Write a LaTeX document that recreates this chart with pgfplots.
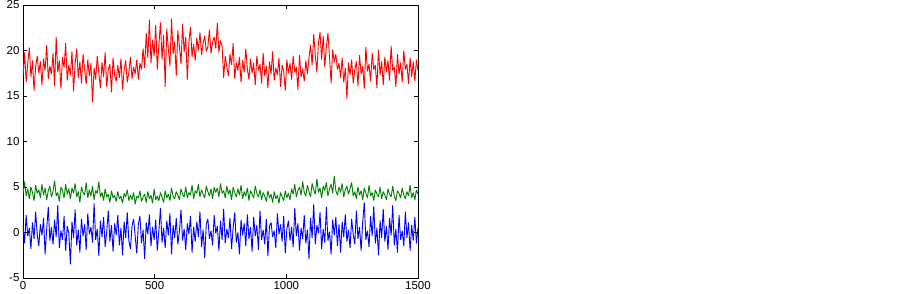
\documentclass[border=0pt]{standalone}
\usepackage{fontspec}
\setmainfont{Liberation Sans}
\usepackage{pgfplots}
\usepackage{pgfplotstable}
\pgfplotsset{compat=1.18}
\pgfplotstableread{
r g b
17.2 4.2 0.8
19.8 5.6 -1.2
16.5 4.0 1.9
18.6 4.8 -0.4
20.3 3.7 0.5
17.1 5.0 -1.8
18.9 4.4 1.1
15.6 3.5 -0.7
18.2 5.2 2.3
19.4 4.3 -0.2
17.5 4.7 -1.5
18.8 3.8 0.9
16.2 5.3 -0.3
19.1 4.1 1.6
17.8 4.9 -2.4
20.6 3.6 0.4
16.9 4.6 2.8
18.3 5.1 -0.9
17.4 3.9 0.6
19.7 4.5 -1.3
16.1 5.7 1.4
21.5 4.0 -0.5
17.6 4.4 3.0
18.9 3.4 -1.7
15.8 5.0 0.2
19.3 4.6 -0.8
18.1 3.8 1.8
20.8 5.3 -2.0
16.7 4.2 0.7
18.4 4.8 -0.1
17.3 3.7 -3.5
19.9 4.9 1.2
15.5 4.3 -0.6
18.6 5.4 2.5
20.2 3.9 -1.4
17.0 4.5 0.3
18.8 3.3 -2.2
16.4 5.0 1.5
19.6 4.4 -0.4
17.9 4.1 0.9
16.3 5.5 -1.9
19.0 3.8 2.1
17.2 4.7 -0.2
18.6 4.0 0.6
14.3 5.1 -1.1
18.1 3.6 3.2
16.8 4.6 -0.8
19.4 4.3 0.4
17.5 5.6 -2.6
15.9 3.9 1.3
18.7 4.4 -0.5
17.1 3.5 1.7
19.8 4.8 -1.6
16.0 3.9 0.1
17.9 4.2 2.4
18.5 3.3 -1.0
15.4 4.6 0.8
19.2 3.8 -2.1
17.3 4.1 1.0
16.6 3.4 -0.3
18.4 4.5 1.9
17.0 3.7 -1.4
19.1 4.0 0.5
15.7 3.2 -2.5
17.8 4.3 1.2
18.9 3.9 -0.6
16.5 4.7 2.2
17.6 3.5 -0.9
19.3 4.1 -1.8
16.9 3.6 0.7
18.2 4.4 1.5
17.4 3.1 -0.4
19.0 4.0 -2.3
16.8 3.8 0.9
18.6 4.6 1.8
17.9 3.4 -1.2
20.2 3.9 0.3
18.1 4.2 -2.9
21.9 3.3 1.1
19.2 4.5 -0.2
23.4 3.7 2.0
18.6 4.1 -1.5
21.2 3.2 0.6
19.4 4.8 -0.8
22.8 3.6 1.4
17.9 4.0 -2.0
20.6 3.5 0.2
23.1 4.4 2.7
19.0 3.9 -1.1
21.7 3.3 0.5
16.0 4.6 -1.7
22.4 3.8 1.3
20.1 4.2 -0.3
18.3 3.5 2.1
23.5 4.9 -2.4
19.6 4.0 0.8
21.0 3.7 -0.6
17.2 4.5 1.6
22.2 4.1 -1.3
20.4 3.6 0.1
18.5 4.8 2.5
22.9 4.2 -0.9
19.8 3.9 0.4
21.5 5.0 -1.9
16.8 3.8 1.0
20.9 4.4 -0.2
22.6 4.1 1.8
19.3 5.2 -2.2
20.7 3.7 0.6
18.9 4.6 -1.0
21.4 4.3 1.2
20.0 5.3 -0.5
22.0 3.9 2.3
19.5 4.7 -1.6
20.8 4.2 0.3
21.6 3.8 -2.8
19.9 5.1 0.9
20.4 4.5 1.5
22.3 4.0 -0.7
19.7 4.8 0.2
20.9 3.7 -1.4
21.5 5.0 1.9
20.2 4.4 -0.1
23.0 4.9 0.7
19.8 3.9 -2.0
21.1 5.4 1.3
20.5 4.3 -0.8
17.0 4.6 2.6
19.4 3.8 -1.2
18.2 5.1 0.4
17.2 4.2 -0.6
19.6 4.7 1.6
18.4 3.6 -1.8
20.8 5.0 0.5
16.9 4.4 2.2
18.7 3.9 -1.1
17.8 4.8 0.0
19.3 4.1 -2.4
16.5 5.2 1.4
18.9 3.7 -0.3
17.6 4.5 1.0
20.2 4.0 -1.5
18.0 4.9 2.0
16.8 3.5 -0.7
19.1 4.6 0.6
17.5 4.2 -2.1
18.6 3.8 1.7
16.2 5.1 -0.4
19.4 4.3 0.8
17.8 3.9 -1.9
18.5 4.7 2.4
16.4 3.6 -0.8
19.7 4.4 0.3
17.2 4.0 -1.3
18.3 3.4 1.5
15.9 4.6 -2.6
18.8 3.8 0.7
17.4 4.2 1.1
19.9 3.3 -0.5
16.7 4.5 0.2
18.1 3.7 -1.7
17.3 4.1 2.1
19.2 3.2 -0.2
16.0 4.4 0.9
18.4 3.9 -1.0
17.7 3.5 1.8
15.6 4.6 -2.3
19.0 3.8 0.4
17.5 4.3 1.3
18.6 3.6 -0.9
16.8 4.8 0.6
19.4 4.2 -1.6
17.6 5.3 2.7
18.2 3.9 -0.4
15.7 4.6 1.0
19.5 5.0 -2.0
17.1 4.1 0.5
18.0 5.6 -0.7
16.6 4.4 1.9
18.9 4.0 -1.2
17.4 5.2 0.3
19.2 4.5 -2.9
20.6 3.9 1.6
18.4 5.4 -0.6
21.8 4.7 3.1
19.5 4.2 -1.3
17.6 5.9 0.8
20.9 4.4 -0.1
22.0 4.9 2.2
19.0 3.8 -1.8
21.6 5.1 0.4
18.2 4.6 -1.1
20.4 5.5 2.8
21.9 4.0 -0.9
19.3 4.8 0.1
16.4 5.3 -2.4
20.1 4.3 1.4
18.7 6.2 -0.3
19.6 4.6 1.7
17.9 4.1 -1.5
18.6 5.0 0.9
17.0 4.4 -2.2
19.2 5.4 1.2
16.5 3.9 -0.5
18.1 4.7 2.0
14.7 5.1 -1.0
18.7 4.2 0.3
17.3 4.8 -1.7
19.0 5.5 1.5
16.4 4.0 -0.2
17.9 4.5 -1.3
18.8 3.7 2.4
16.1 5.0 -0.7
19.5 4.1 0.6
17.4 4.6 -2.0
18.3 3.6 1.1
15.8 4.9 3.3
20.4 4.3 -0.8
17.7 3.8 0.2
18.5 5.2 -1.6
16.6 4.0 1.8
19.7 4.4 -0.4
17.9 3.5 2.9
18.4 4.7 -1.2
15.9 4.2 0.5
20.1 3.9 -2.5
17.3 5.0 1.3
18.8 3.7 -0.6
16.2 4.5 2.6
19.3 4.1 -1.0
17.6 3.6 0.7
18.9 4.8 -1.9
16.7 4.2 1.6
20.5 3.9 -0.3
17.8 5.1 3.0
18.2 4.0 -1.4
16.0 3.5 0.4
19.6 4.6 -2.2
17.4 4.3 1.9
18.7 3.8 -0.8
16.5 4.9 0.2
20.0 4.1 -1.5
17.9 3.7 2.3
18.5 4.5 -0.6
16.3 4.0 1.1
19.2 5.2 -2.0
17.1 3.8 0.8
18.8 4.4 -0.9
16.6 3.6 1.7
19.0 4.7 -1.2
17.8 4.2 0.5
}\datatable
\begin{document}
\begin{tikzpicture}[x=1pt,y=1pt]
\useasboundingbox (0,0) rectangle (903,294);
\begin{axis}[
  at={(23pt,16pt)}, anchor=south west,
  scale only axis, width=395pt, height=273pt,
  xmin=0, xmax=1500, ymin=-5, ymax=25,
  xtick={0,500,1000,1500}, ytick={-5,0,5,10,15,20,25},
  tick align=inside, major tick length=4pt,
  tick style={black, line width=0.5pt},
  axis line style={black, line width=0.6pt},
  ticklabel style={font=\fontsize{11.5}{13}\selectfont},
  /pgf/number format/assume math mode=true,
  /pgf/number format/1000 sep={},
  every axis plot/.append style={line width=0.9pt, line join=miter, miter limit=2},
]
\addplot[color={rgb,1:red,1;green,0;blue,0}, no marks] table[x expr=\coordindex*6, y=r] {\datatable};
\addplot[color={rgb,1:red,0;green,0.5;blue,0}, no marks] table[x expr=\coordindex*6, y=g] {\datatable};
\addplot[color={rgb,1:red,0;green,0;blue,1}, no marks] table[x expr=\coordindex*6, y=b] {\datatable};
\end{axis}
\end{tikzpicture}
\end{document}
